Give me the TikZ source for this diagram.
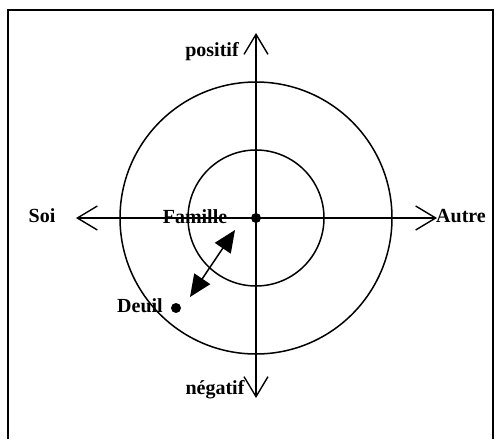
\documentclass[tikz,border=0pt]{standalone}
\usepackage{fontspec}
\setmainfont{Liberation Serif}
\usetikzlibrary{arrows.meta}
\begin{document}
\begin{tikzpicture}[x=1pt,y=-1pt,
  axis/.style={line width=1.4pt,-{Straight Barb[length=20pt,width=24pt,line width=1.4pt]}},
  ring/.style={line width=1.5pt},
  lbl/.style={font=\bfseries\fontsize{20}{20}\selectfont,inner sep=0pt},
  dot/.style={circle,fill=black,inner sep=0pt,minimum size=10pt}]
\useasboundingbox (0,0) rectangle (500,439);
\draw[line width=1.5pt] (8,439) -- (8,10) -- (493,10) -- (493,439);
\coordinate (c) at (256,218);
\draw[ring] (c) circle[radius=136];
\draw[ring] (c) circle[radius=68];
\coordinate (top) at (256,33);
\coordinate (bot) at (256,398);
\coordinate (lft) at (76,218);
\coordinate (rgt) at (437,218);
\draw[axis] (c) -- (top);
\draw[axis] (c) -- (bot);
\draw[axis] (c) -- (lft);
\draw[axis] (c) -- (rgt);
\node[dot] (ctr) at (c) {};
\node[dot] (deuil) at (176,308) {};
\node[lbl] (pos) at (212,52) {positif};
\node[lbl] (neg) at (215,390) {négatif};
\node[lbl] (soi) at (42,216) {Soi};
\node[lbl] (aut) at (461,216) {Autre};
\node[lbl] (fam) at (195,217) {Famille};
\node[lbl,anchor=east] (dl) at (163,306) {Deuil};
\coordinate (a1) at (235,230);
\coordinate (a2) at (190,297);
\draw[line width=1.5pt,{Triangle[length=22pt,width=19pt]}-{Triangle[length=22pt,width=19pt]}] (a2) -- (a1);
\end{tikzpicture}
\end{document}
